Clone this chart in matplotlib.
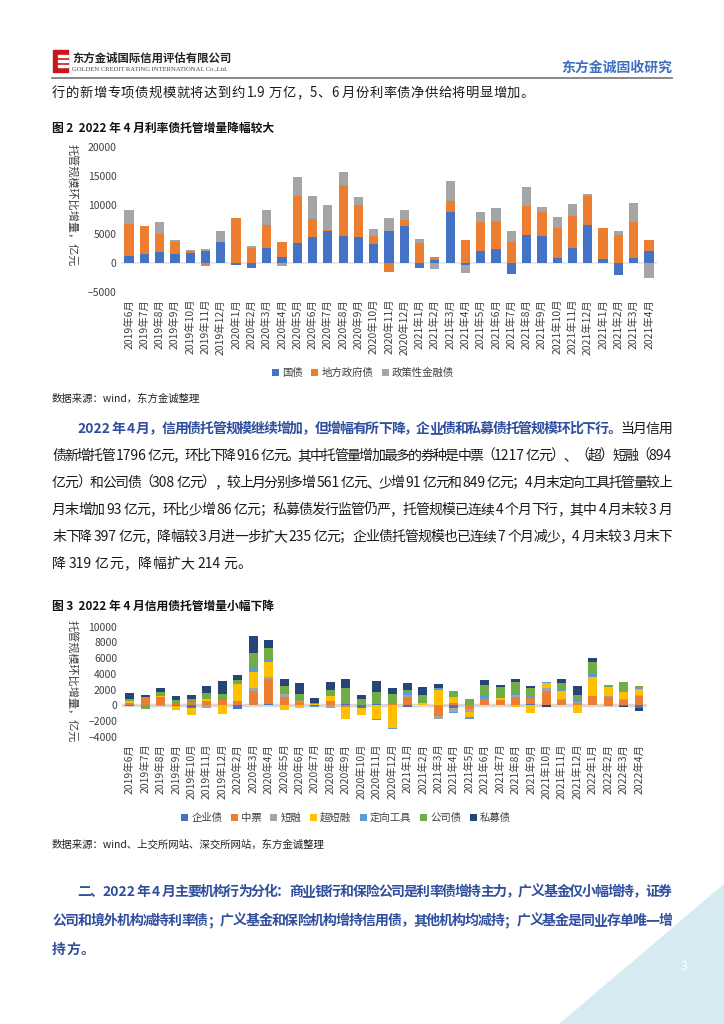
import matplotlib
matplotlib.use('Agg')
import matplotlib.pyplot as plt
import numpy as np
from matplotlib.patches import Polygon, Rectangle

plt.rcParams['font.family'] = ['Noto Sans CJK SC', 'DejaVu Sans']

# 图2 利率债托管增量（亿元）
months1 = ['2019年6月', '2019年7月', '2019年8月', '2019年9月', '2019年10月', '2019年11月', '2019年12月',
           '2020年1月', '2020年2月', '2020年3月', '2020年4月', '2020年5月', '2020年6月', '2020年7月',
           '2020年8月', '2020年9月', '2020年10月', '2020年11月', '2020年12月',
           '2021年1月', '2021年2月', '2021年3月', '2021年4月', '2021年5月', '2021年6月', '2021年7月',
           '2021年8月', '2021年9月', '2021年10月', '2021年11月', '2021年12月',
           '2021年1月', '2021年2月', '2021年3月', '2021年4月']
guozhai = [1200, 1500, 1900, 1500, 1700, 2000, 3650, -350, -800, 2650, 1050, 3450, 4550, 5550, 4600,
           4450, 3200, 5550, 6450, -850, 500, 8800, -350, 2150, 2450, -1850, 4800, 4600, 850, 2550,
           6550, 750, -2150, 900, 2000]
difang = [5500, 4850, 3100, 2100, 300, -500, 50, 7750, 2550, 3900, 2550, 8100, 3050, 150, 8800,
          5500, 1400, -1600, 900, 3400, 500, 1900, 3950, 4900, 4850, 3600, 5100, 4250, 5250, 5550,
          5050, 5200, 4750, 6150, 2000]
zhengce = [2400, 0, 2050, 400, 200, 400, 1750, 0, 400, 2550, -600, 3300, 3950, 4300, 2300,
           1500, 1300, 2250, 1750, 700, -1050, 3500, -1350, 1800, 2200, 2000, 3200, 750, 1900, 2100,
           250, 0, 850, 3300, -2500]

# 图3 信用债托管增量（亿元）
months2 = ['2019年6月', '2019年7月', '2019年8月', '2019年9月', '2019年10月', '2019年11月', '2019年12月',
           '2020年2月', '2020年3月', '2020年4月', '2020年5月', '2020年6月', '2020年7月', '2020年8月',
           '2020年9月', '2020年10月', '2020年11月', '2020年12月',
           '2021年1月', '2021年2月', '2021年3月', '2021年4月', '2021年5月', '2021年6月', '2021年7月',
           '2021年8月', '2021年9月', '2021年10月', '2021年11月', '2021年12月',
           '2022年1月', '2022年2月', '2022年3月', '2022年4月']
qiye = [-100, 0, 0, -100, -300, 0, 0, -500, 0, 150, 0, 0, -150, 0, 150, -300, 150, 0,
        -250, 0, 0, -400, 0, 0, 0, 0, 200, 0, 0, 0, 0, 0, -105, -319]
zhongpiao = [300, 1100, 1000, 150, 450, 600, 700, 600, 1850, 3200, 1000, 400, 0, 600, -250, 0, 0, 200,
             1000, 0, -1350, 350, -450, 800, 700, 1000, 750, 1800, 650, 350, 1200, 1050, 656, 1217]
duanrong = [0, 0, -150, 0, 0, -300, 0, 0, 300, 300, 400, 150, 0, -400, 0, -100, 0, 0,
            300, 0, -350, -400, -400, 0, 0, 350, 0, 450, 150, 100, 0, 150, 100, 100]
chaoduan = [200, 0, 200, -450, -900, 200, -1100, 2100, 2100, 1900, -550, -300, 100, 600, -1500, -800, -1800, -2850,
            0, 300, 1900, 650, -650, 0, 200, -250, -1000, 550, 1050, -1000, 2400, 1150, 885, 794]
dingxiang = [0, 0, 0, 0, 0, 0, 0, 0, 600, 300, 0, 0, -100, 0, 0, -100, -100, -200,
             550, 0, 250, -200, -200, 450, 150, 150, 200, 150, 150, 200, 450, -150, 179, 93]
gongsi = [300, -500, 550, 500, 350, 800, 700, 500, 1850, 1500, 1000, 850, 250, 750, 2050, 850, 1500, 1200,
          150, 950, 100, 800, 800, 1300, 1250, 1500, 1000, 0, 850, 650, 1500, 200, 1157, 308]
simu = [800, 250, 400, 500, 500, 850, 1750, 650, 2100, 1000, 1000, 1400, 600, 1000, 1150, 450, 1500, 850,
        800, 1100, 500, 0, -100, 700, 250, 300, 350, -250, 450, 1150, 450, 0, -162, -397]

W, H = 724, 1024
fig = plt.figure(figsize=(W / 100, H / 100), dpi=100)
fig.patch.set_facecolor('white')


def fx(px):
    return px / W


def fy(py):
    return 1 - py / H


def stacked(ax, series, colors, labels, width):
    x = np.arange(len(series[0]))
    pos = np.zeros(len(x))
    neg = np.zeros(len(x))
    for vals, c, lab in zip(series, colors, labels):
        v = np.array(vals, dtype=float)
        bottom = np.where(v >= 0, pos, neg)
        ax.bar(x, v, width, bottom=bottom, color=c, label=lab, zorder=3)
        pos += np.clip(v, 0, None)
        neg += np.clip(v, None, 0)


def style_axes(ax, labels, zero_lw, zero_c):
    for s in ax.spines.values():
        s.set_visible(False)
    ax.axhline(0, color=zero_c, lw=zero_lw, zorder=2)
    ax.set_xticks(range(len(labels)))
    ax.set_xticklabels(labels, rotation=90, fontsize=7, color='#404040')
    ax.tick_params(axis='both', length=0, labelsize=7.5, colors='#404040')
    ax.tick_params(axis='x', pad=5)
    ax.set_xlim(-0.5, len(labels) - 0.5)


# 页眉
fig.patches.append(Rectangle((fx(53), fy(72)), fx(15) - fx(0), fy(50) - fy(72), color='#C8161D',
                             transform=fig.transFigure, figure=fig))
for yy in [55, 60, 65]:
    fig.patches.append(Rectangle((fx(58), fy(yy + 2)), fx(10) - fx(0), fy(0) - fy(2), color='white',
                                 transform=fig.transFigure, figure=fig))
fig.text(fx(72), fy(58), '东方金诚国际信用评估有限公司', fontsize=8.2, fontweight='bold', color='#222222',
         va='center')
fig.text(fx(72), fy(69), 'GOLDEN CREDIT RATING INTERNATIONAL Co.,Ltd.', fontsize=4.8, color='#444444',
         va='center', family='Liberation Serif')
fig.text(fx(672), fy(68), '东方金诚固收研究', fontsize=10, fontweight='bold', color='#3F6FBF',
         ha='right', va='center')
fig.add_artist(plt.Line2D([fx(52), fx(672)], [fy(78), fy(78)], color='#7F7F7F', lw=1.3))

renderer = fig.canvas.get_renderer()


def tokens(s):
    out = []
    buf = ''
    for ch in s:
        if ord(ch) < 128:
            buf += ch
        else:
            if buf:
                out.append(buf)
                buf = ''
            out.append(ch)
    if buf:
        out.append(buf)
    return out


def put_line(y, segs, x0=52, x1=672, justify=True, size=10):
    items = []
    for s, color, weight in segs:
        for tk in tokens(s):
            t = fig.text(0, fy(y), tk.strip() if tk.strip() else tk, fontsize=size, color=color,
                         fontweight=weight, va='center')
            w = t.get_window_extent(renderer).width if tk.strip() else 0
            pad = size * 0.25 * ((tk[0] == ' ') + (tk[-1] == ' ')) if tk.strip() else size * 0.3
            items.append((t, w, pad, tk))
    total = sum(w + p for _, w, p, _ in items)
    gap = (x1 - x0 - total) / max(len(items) - 1, 1) if justify else 0.4
    x = x0
    for t, w, p, tk in items:
        lead = size * 0.25 if tk[0] == ' ' and tk.strip() else 0
        t.set_x(fx(x + lead))
        x += w + p + gap


BLK = '#1A1A1A'
BLUE = '#2F4E9E'

put_line(93, [('行的新增专项债规模就将达到约 1.9 万亿，5、6 月份利率债净供给将明显增加。', BLK, 'normal')],
         justify=False, size=9.6)

fig.text(fx(52), fy(128), '图 2  2022 年 4 月利率债托管增量降幅较大', fontsize=8.5, fontweight='bold',
         color='#111111', va='center')

# 图2
ax1 = fig.add_axes([fx(121.4), fy(292), fx(535.2), fy(147) - fy(292)])
stacked(ax1, [guozhai, difang, zhengce], ['#4472C4', '#ED7D31', '#A5A5A5'],
        ['国债', '地方政府债', '政策性金融债'], 0.6)
style_axes(ax1, months1, 1.2, '#E6E6E6')
ax1.set_ylim(-5000, 20000)
ax1.set_yticks(np.arange(-5000, 20001, 5000))
fig.text(fx(72), fy(205), '托管规模环比增量，亿元', rotation=270, fontsize=8, color='#404040',
         ha='center', va='center')
ax1.legend(loc='center', bbox_to_anchor=(fx(363), fy(373)), bbox_transform=fig.transFigure, ncol=3,
           frameon=False, fontsize=7.5, handlelength=0.7, handleheight=0.7, handletextpad=0.3,
           columnspacing=0.8, labelcolor='#404040')

fig.text(fx(52), fy(399), '数据来源：wind，东方金诚整理', fontsize=7.5, color='#222222', va='center')

para1 = [
    [('2022 年 4 月，信用债托管规模继续增加，但增幅有所下降，企业债和私募债托管规模环比下行。', BLUE, 'bold'),
     ('当月信用', BLK, 'normal')],
    [('债新增托管 1796 亿元，环比下降 916 亿元。其中托管量增加最多的券种是中票（1217 亿元）、（超）短融（894', BLK, 'normal')],
    [('亿元）和公司债（308 亿元），较上月分别多增 561 亿元、少增 91 亿元和 849 亿元；4 月末定向工具托管量较上', BLK, 'normal')],
    [('月末增加 93 亿元，环比少增 86 亿元；私募债发行监管仍严，托管规模已连续 4 个月下行，其中 4 月末较 3 月', BLK, 'normal')],
    [('末下降 397 亿元，降幅较 3 月进一步扩大 235 亿元；企业债托管规模也已连续 7 个月减少，4 月末较 3 月末下', BLK, 'normal')],
    [('降 319 亿元，降幅扩大 214 元。', BLK, 'normal')],
]
py = [429, 456, 483, 510, 537, 564]
for i, segs in enumerate(para1):
    put_line(py[i], segs, x0=77 if i == 0 else 52, justify=i < len(para1) - 1)

fig.text(fx(52), fy(606), '图 3  2022 年 4 月信用债托管增量小幅下降', fontsize=8.5, fontweight='bold',
         color='#111111', va='center')

# 图3
ax2 = fig.add_axes([fx(122), fy(736.7), fx(524.7), fy(626.7) - fy(736.7)])
stacked(ax2, [qiye, zhongpiao, duanrong, chaoduan, dingxiang, gongsi, simu],
        ['#4472C4', '#ED7D31', '#A5A5A5', '#FFC000', '#5B9BD5', '#70AD47', '#264478'],
        ['企业债', '中票', '短融', '超短融', '定向工具', '公司债', '私募债'], 0.58)
style_axes(ax2, months2, 2.5, '#D9D9D9')
ax2.set_ylim(-4000, 10000)
ax2.set_yticks(np.arange(-4000, 10001, 2000))
fig.text(fx(72), fy(681), '托管规模环比增量，亿元', rotation=270, fontsize=8, color='#404040',
         ha='center', va='center')
ax2.legend(loc='center', bbox_to_anchor=(fx(346), fy(818)), bbox_transform=fig.transFigure, ncol=7,
           frameon=False, fontsize=7.5, handlelength=0.7, handleheight=0.7, handletextpad=0.3,
           columnspacing=0.8, labelcolor='#404040')

fig.text(fx(52), fy(845), '数据来源：wind、上交所网站、深交所网站，东方金诚整理', fontsize=7.5, color='#222222',
         va='center')

# 页脚三角
fig.patches.append(Polygon([[fx(724), fy(884)], [fx(724), fy(1024)], [fx(559), fy(1024)]], closed=True,
                           color='#D6EAF2', transform=fig.transFigure, figure=fig, zorder=0))
fig.text(fx(684), fy(967), '3', fontsize=9, color='white', ha='center', va='center')

para2 = [
    '二、2022 年 4 月主要机构行为分化：商业银行和保险公司是利率债增持主力，广义基金仅小幅增持，证券',
    '公司和境外机构减持利率债；广义基金和保险机构增持信用债，其他机构均减持；广义基金是同业存单唯一增',
    '持方。',
]
py2 = [892, 921, 950]
for i, s in enumerate(para2):
    put_line(py2[i], [(s, BLUE, 'bold')], x0=77 if i == 0 else 52, justify=i < len(para2) - 1)

fig.savefig('out.png', dpi=100)
